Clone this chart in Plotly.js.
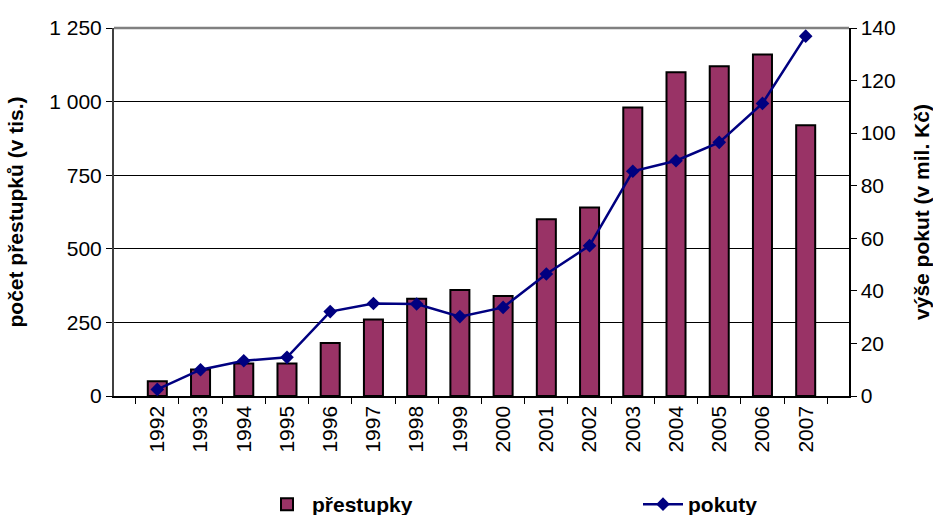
<!DOCTYPE html>
<html>
<head>
<meta charset="utf-8">
<script src="https://cdn.plot.ly/plotly-3.0.1.min.js"></script>
<style>html,body{margin:0;padding:0;background:#fff;}#chart{width:933px;height:515px;}</style>
</head>
<body>
<div id="chart"></div>
<script>
const years = ["1992","1993","1994","1995","1996","1997","1998","1999","2000","2001","2002","2003","2004","2005","2006","2007"];
const prestupky = [50, 90, 110, 110, 180, 260, 330, 360, 340, 600, 640, 980, 1100, 1120, 1160, 920];
const pokuty = [2.5, 10, 13.4, 14.7, 32.1, 35.2, 35, 30.2, 33.7, 46.4, 57.2, 85.5, 89.5, 96.5, 111.3, 136.9];
const leftTicks = [0, 250, 500, 750, 1000, 1250];
const rightTicks = [0, 20, 40, 60, 80, 100, 120, 140];

const font = {family: "Liberation Sans, Arial, sans-serif", color: "#000"};
const FS = 21;

const traces = [
  {
    type: "bar", name: "přestupky", x: years, y: prestupky, legend: "legend",
    marker: {color: "#993366", line: {color: "#000", width: 2}},
    hoverinfo: "x+y"
  },
  {
    type: "scatter", mode: "lines+markers", name: "pokuty", x: years, y: pokuty, yaxis: "y2", legend: "legend2",
    line: {color: "#000080", width: 2.5},
    marker: {symbol: "diamond", size: 10.5, color: "#000080"}
  }
];

const legendBase = {
  orientation: "h", xref: "container", yref: "container",
  xanchor: "left", y: 31 / 515, yanchor: "top",
  font: Object.assign({size: FS, weight: "bold"}, font),
  itemwidth: 40, bgcolor: "rgba(0,0,0,0)"
};

const layout = {
  width: 933, height: 515,
  margin: {l: 114, r: 84, t: 28, b: 119, autoexpand: false},
  paper_bgcolor: "#fff", plot_bgcolor: "#fff",
  separators: ", ",
  font: Object.assign({size: FS}, font),
  bargap: 0.56,
  showlegend: true,
  legend: Object.assign({}, legendBase, {x: 262 / 933}),
  legend2: Object.assign({}, legendBase, {x: 638 / 933}),
  xaxis: {
    type: "category", tickangle: -90, ticks: "outside", ticklen: 6, tickcolor: "#000",
    tickson: "boundaries", showline: true, linecolor: "#000", linewidth: 1.5,
    showgrid: false, automargin: false, tickfont: Object.assign({size: FS}, font)
  },
  yaxis: {
    range: [0, 1250], tickvals: leftTicks, tickformat: ",d",
    ticks: "outside", ticklen: 6, tickcolor: "#000",
    showline: true, linecolor: "#404040", linewidth: 2,
    showgrid: true, gridcolor: "#000", gridwidth: 1, zeroline: false, automargin: false,
    tickfont: Object.assign({size: FS}, font),
    title: {text: "počet přestupků (v tis.)", font: Object.assign({size: FS, weight: "bold"}, font), standoff: 20}
  },
  yaxis2: {
    overlaying: "y", side: "right", range: [0, 140], tickvals: rightTicks,
    ticks: "outside", ticklen: 6, tickcolor: "#000",
    showline: true, linecolor: "#000", linewidth: 1.5,
    showgrid: false, zeroline: false, automargin: false,
    tickfont: Object.assign({size: FS}, font),
    title: {text: "výše pokut (v mil. Kč)", font: Object.assign({size: FS, weight: "bold"}, font), standoff: 20}
  },
  shapes: [
    {type: "line", xref: "paper", yref: "paper", x0: 0, x1: 1, y0: 1, y1: 1, line: {color: "#808080", width: 2.5}}
  ]
};

Plotly.newPlot("chart", traces, layout, {displayModeBar: false, staticPlot: true});
</script>
</body>
</html>
